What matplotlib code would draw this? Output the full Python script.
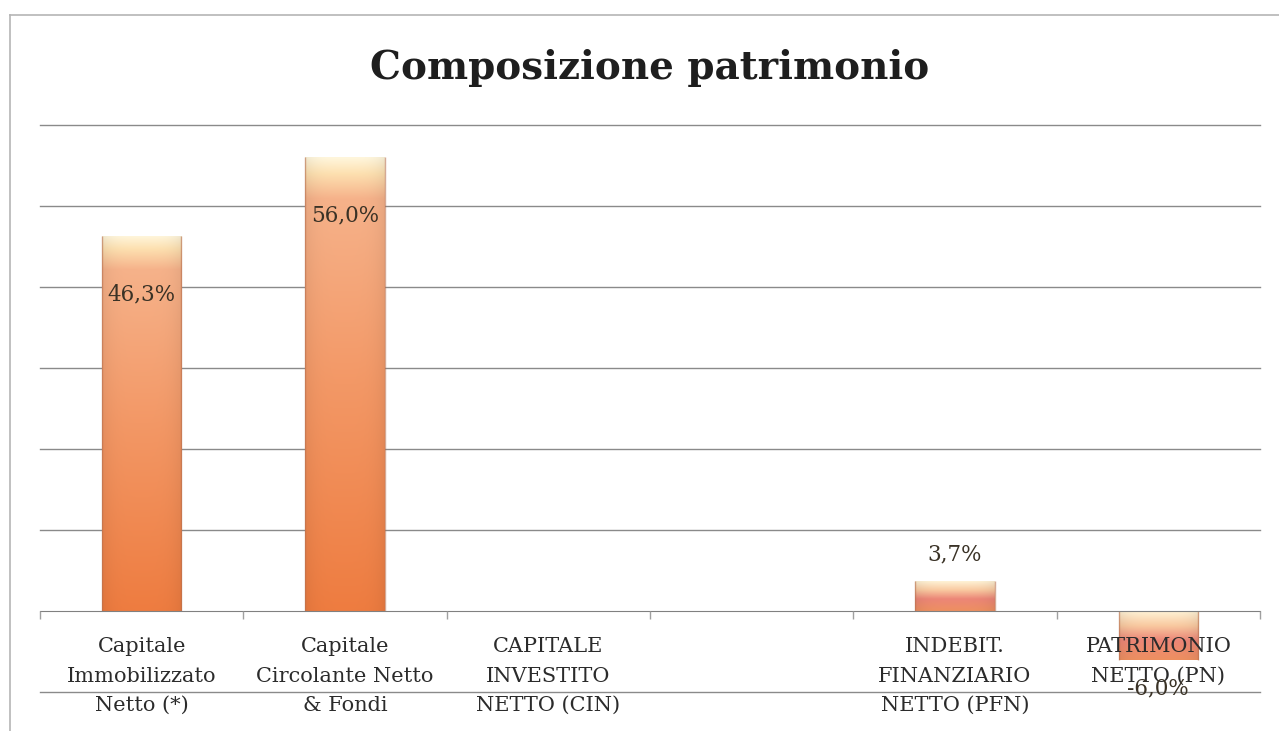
import numpy as np
import matplotlib
matplotlib.use("Agg")
import matplotlib.pyplot as plt
from matplotlib.colors import LinearSegmentedColormap
from matplotlib.lines import Line2D
from matplotlib.ticker import FixedLocator, NullFormatter

# Data
categories = [
    "Capitale\nImmobilizzato\nNetto (*)",
    "Capitale\nCircolante Netto\n& Fondi",
    "CAPITALE\nINVESTITO\nNETTO (CIN)",
    "",
    "INDEBIT.\nFINANZIARIO\nNETTO (PFN)",
    "PATRIMONIO\nNETTO (PN)",
]
values = [46.3, 56.0, 0.0, np.nan, 3.7, -6.0]
value_labels = ["46,3%", "56,0%", None, None, "3,7%", "-6,0%"]
grid_levels = np.arange(-10, 61, 10)

SERIF = ["DejaVu Serif"]
TEXT = "#2b2b2b"

fig = plt.figure(figsize=(12.79, 7.31), dpi=100)
ax = fig.add_axes([40 / 1279, 39 / 731, 1220 / 1279, 567 / 731])

x = np.arange(len(categories))
heights = [0 if np.isnan(v) else v for v in values]
bars = ax.bar(x, heights, width=0.39, color="none", edgecolor="none", zorder=1.5)

# Gradient fill: cream highlight on top fading to peach and then orange
bar_cmap = LinearSegmentedColormap.from_list(
    "bar",
    [(0.0, "#fff6dc"), (0.035, "#fde0b0"), (0.09, "#f6b28a"),
     (0.5, "#f39866"), (1.0, "#ee7c40")],
)
short_cmap = LinearSegmentedColormap.from_list(
    "short",
    [(0.0, "#fff3d6"), (0.3, "#f9c9a0"), (0.6, "#ec8677"), (1.0, "#ee9060")],
)

for rect, v in zip(bars, values):
    if np.isnan(v) or v == 0:
        continue
    x0, w = rect.get_x(), rect.get_width()
    y0, h = rect.get_y(), rect.get_height()
    top, bot = (y0 + h, y0) if h > 0 else (y0, y0 + h)
    cmap = bar_cmap if abs(h) > 10 else short_cmap
    vert = np.linspace(0, 1, 256)[:, None]
    rgb = cmap(vert)[:, :, :3] * np.ones((1, 40, 1))
    # slight darkening towards the sides
    horiz = np.linspace(-1, 1, 40)
    shade = 1 - 0.06 * np.abs(horiz) ** 4
    rgb = rgb * shade[None, :, None]
    im = ax.imshow(rgb, extent=[x0, x0 + w, bot, top], origin="upper",
                   aspect="auto", zorder=1.5, interpolation="bilinear")
    im.set_clip_path(rect)
    for xe in (x0, x0 + w):
        ax.plot([xe, xe], [bot, top], color="#b8704f", lw=1.0, alpha=0.6,
                zorder=1.6, solid_capstyle="butt")

# Horizontal gridlines behind the bars
for g in grid_levels:
    if g != 0:
        ax.axhline(g, color="#8a8a8a", lw=1.0, zorder=1, clip_on=False)

# Value labels
for i, (v, lab) in enumerate(zip(values, value_labels)):
    if lab is None:
        continue
    if v > 10:
        off = (0, -42)
    elif v > 0:
        off = (0, 19)
    else:
        off = (0, -21)
    ax.annotate(lab, (i, v), xytext=off, textcoords="offset points",
                ha="center", va="center", fontsize=15.5, family=SERIF,
                color="#3a3226", zorder=5)

ax.set_xlim(-0.5, len(categories) - 0.5)
ax.set_ylim(-10, 60)
ax.set_yticks(grid_levels)
ax.tick_params(axis="y", length=0, labelleft=False)
ax.set_axisbelow(False)

for side in ("top", "right", "left"):
    ax.spines[side].set_visible(False)
ax.spines["bottom"].set_position(("data", 0))
ax.spines["bottom"].set_color("#808080")

ax.set_xticks(x)
ax.set_xticklabels(categories, family=SERIF, fontsize=15, color=TEXT,
                   linespacing=1.68, va="top")
ax.tick_params(axis="x", which="major", length=0, pad=19)
ax.xaxis.set_minor_locator(FixedLocator(np.arange(-0.5, len(categories), 1)))
ax.xaxis.set_minor_formatter(NullFormatter())
ax.tick_params(axis="x", which="minor", length=6, color="#a0a0a0", width=1)

fig.text(0.508, 0.907, "Composizione patrimonio", ha="center", va="center",
         fontsize=28, fontweight="bold", family=SERIF, color="#1e1e1e")

# Chart frame
fig.add_artist(Line2D([10 / 1279, 1.0], [1 - 15 / 731, 1 - 15 / 731],
                      transform=fig.transFigure, color="#b5b5b5", lw=1.2))
fig.add_artist(Line2D([10 / 1279, 10 / 1279], [0, 1 - 15 / 731],
                      transform=fig.transFigure, color="#b5b5b5", lw=1.2))

fig.savefig("out.png", dpi=100)
